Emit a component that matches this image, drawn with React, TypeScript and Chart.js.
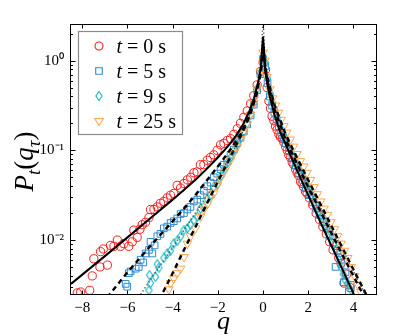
import React, { useEffect, useRef } from 'react';
import { Chart, registerables } from 'chart.js';

Chart.register(...registerables);

// ---- data (q, P) ----
const q0 = [-8.22,-8.07,-7.67,-7.56,-7.49,-7.22,-7.19,-7.07,-6.89,-6.75,-6.60,-6.45,-6.31,-6.16,-5.94,-5.79,-5.72,-5.57,-5.45,-5.35,-5.20,-5.05,-4.98,-4.83,-4.68,-4.54,-4.39,-4.24,-4.10,-3.95,-3.80,-3.65,-3.50,-3.35,-3.20,-3.06,-2.92,-2.77,-2.62,-2.47,-2.33,-2.18,-2.03,-1.88,-1.73,-1.58,-1.44,-1.29,-1.14,-1.00,-0.85,-0.70,-0.55,-0.41,-0.26,-0.11,0.00,0.11,0.18,0.26,0.33,0.40,0.48,0.55,0.62,0.70,0.77,0.85,0.92,1.00,1.07,1.14,1.22,1.29,1.36,1.44,1.51,1.58,1.66,1.73,1.80,1.88,1.95,2.05,2.20,2.35,2.50,2.65,2.80,2.95,3.10,3.25,3.35,3.45,3.58,3.70,3.85];
const p0 = [0.00257,0.00263,0.00275,0.00398,0.00617,0.00501,0.00741,0.00794,0.00525,0.00871,0.00851,0.0100,0.00851,0.00912,0.00851,0.00955,0.0129,0.0107,0.0132,0.0148,0.0158,0.0178,0.0219,0.0219,0.0234,0.0257,0.0269,0.0295,0.0316,0.0331,0.0407,0.0380,0.0427,0.0468,0.0501,0.0562,0.0575,0.0692,0.0692,0.0776,0.0832,0.0891,0.100,0.115,0.120,0.129,0.135,0.151,0.174,0.200,0.234,0.275,0.331,0.407,0.537,0.759,0.955,0.794,0.501,0.355,0.295,0.240,0.214,0.186,0.170,0.151,0.141,0.135,0.123,0.110,0.100,0.0891,0.0832,0.0741,0.0692,0.0617,0.0562,0.0525,0.0447,0.0427,0.0389,0.0347,0.0331,0.0295,0.0245,0.0200,0.0170,0.0141,0.0117,0.00955,0.00776,0.00871,0.00631,0.00550,0.00331,0.00417,0.00295];

const q5 = [-6.08,-6.01,-5.94,-5.86,-5.64,-5.50,-5.42,-5.30,-5.20,-5.05,-4.98,-4.90,-4.80,-4.68,-4.54,-4.39,-4.24,-4.09,-3.95,-3.80,-3.65,-3.50,-3.35,-3.21,-3.06,-2.91,-2.77,-2.62,-2.47,-2.32,-2.18,-2.03,-1.88,-1.73,-1.58,-1.44,-1.29,-1.14,-1.00,-0.85,-0.70,-0.55,-0.41,-0.26,-0.12,0.00,0.10,0.20,0.30,0.40,0.50,0.60,0.70,0.80,0.90,1.00,1.15,1.30,1.45,1.60,1.75,1.90,2.05,2.20,2.35,2.50,2.65,2.80,2.95,3.10,3.21,3.30,3.45,3.58,3.65,3.80,3.88];
const p5 = [0.00324,0.00302,0.00427,0.00447,0.00479,0.00501,0.00603,0.00562,0.00708,0.00776,0.00955,0.00708,0.00871,0.0110,0.0117,0.0135,0.0141,0.0155,0.0162,0.0174,0.0195,0.0200,0.0219,0.0234,0.0269,0.0282,0.0316,0.0355,0.0398,0.0437,0.0501,0.0550,0.0617,0.0692,0.0776,0.0891,0.102,0.120,0.138,0.162,0.195,0.245,0.324,0.468,0.708,1.047,0.871,0.562,0.398,0.316,0.263,0.219,0.186,0.158,0.138,0.120,0.100,0.0832,0.0676,0.0550,0.0468,0.0380,0.0316,0.0263,0.0224,0.0191,0.0158,0.0135,0.0112,0.00933,0.00501,0.00759,0.00603,0.00339,0.00437,0.00263,0.00316];

const q9 = [-5.05,-4.98,-5.02,-4.76,-4.68,-4.61,-4.39,-4.24,-4.10,-3.95,-3.80,-3.65,-3.50,-3.35,-3.21,-3.06,-2.91,-2.77,-2.62,-2.47,-2.32,-2.18,-2.03,-1.88,-1.73,-1.58,-1.44,-1.29,-1.14,-1.00,-0.85,-0.70,-0.55,-0.41,-0.26,-0.12,0.00,0.10,0.20,0.30,0.40,0.50,0.60,0.70,0.80,0.90,1.00,1.15,1.30,1.45,1.60,1.75,1.90,2.05,2.20,2.35,2.50,2.65,2.80,2.95,3.10,3.25,3.35,3.45,3.55,3.62,3.75,3.90];
const p9 = [0.00275,0.00331,0.00407,0.00389,0.00537,0.00490,0.00631,0.00708,0.00759,0.00912,0.00977,0.0110,0.0129,0.0135,0.0148,0.0166,0.0182,0.0224,0.0234,0.0288,0.0316,0.0389,0.0417,0.0513,0.0603,0.0724,0.0832,0.100,0.117,0.138,0.162,0.200,0.251,0.331,0.479,0.724,1.096,0.955,0.631,0.437,0.347,0.288,0.240,0.204,0.174,0.151,0.132,0.110,0.0891,0.0741,0.0617,0.0501,0.0427,0.0355,0.0295,0.0251,0.0209,0.0178,0.0148,0.0126,0.0105,0.00794,0.00603,0.00501,0.00417,0.00363,0.00331,0.00275];

const q25 = [-4.17,-4.09,-3.95,-3.80,-3.65,-3.50,-3.35,-3.21,-2.99,-2.77,-2.62,-2.47,-2.33,-2.18,-2.03,-1.88,-1.73,-1.58,-1.44,-1.29,-1.14,-1.00,-0.85,-0.70,-0.55,-0.41,-0.26,-0.12,0.00,0.08,0.18,0.30,0.42,0.55,0.68,0.80,0.92,1.05,1.20,1.35,1.50,1.65,1.80,1.95,2.10,2.25,2.40,2.55,2.70,2.85,3.00,3.15,3.30,3.45,3.60,3.75,3.90,4.05,4.20,4.33];
const p25 = [0.00282,0.00331,0.00372,0.00427,0.00479,0.00646,0.00912,0.0110,0.0135,0.0182,0.0219,0.0251,0.0295,0.0331,0.0407,0.0490,0.0575,0.0676,0.0776,0.0933,0.110,0.132,0.155,0.195,0.251,0.339,0.490,0.759,1.230,1.000,0.661,0.479,0.380,0.316,0.263,0.219,0.186,0.158,0.132,0.110,0.0912,0.0759,0.0661,0.0562,0.0468,0.0389,0.0324,0.0269,0.0224,0.0191,0.0158,0.0132,0.0110,0.00912,0.00759,0.00631,0.00501,0.00398,0.00316,0.00263];

// fitted curves
const fitQ0 = [-8.5,-7.0,-6.0,-5.0,-4.0,-3.0,-2.5,-2.0,-1.5,-1.2,-0.9,-0.6,-0.4,-0.2,-0.1,0,0.1,0.2,0.3,0.5,0.75,1.0,1.5,2.0,2.5,3.0,3.5,4.1];
const fitP0 = [0.00324,0.00661,0.0107,0.0174,0.0282,0.0468,0.0617,0.0832,0.115,0.145,0.191,0.275,0.380,0.603,0.832,1.862,0.759,0.525,0.398,0.251,0.162,0.117,0.0603,0.0316,0.0166,0.00891,0.00479,0.00224];
const fitQ5 = [-6.9,-6.0,-5.0,-4.0,-3.5,-3.0,-2.5,-2.0,-1.5,-1.0,-0.6,-0.3,-0.1,0,0.1,0.25,0.5,1.0,1.5,2.0,2.5,3.0,3.5,4.0,4.45];
const fitP5 = [0.00229,0.00437,0.00851,0.0162,0.0224,0.0316,0.0457,0.0661,0.0977,0.151,0.240,0.417,0.759,1.514,0.794,0.513,0.288,0.132,0.0708,0.0389,0.0219,0.0123,0.00692,0.00398,0.00240];
const fitQ9 = [-5.5,-5.0,-4.0,-3.5,-3.0,-2.5,-2.0,-1.5,-1.0,-0.6,-0.3,-0.1,0,0.1,0.25,0.5,1.0,1.5,2.0,2.5,3.0,3.5,4.0,4.55];
const fitP9 = [0.00229,0.00355,0.00832,0.0129,0.0200,0.0309,0.0490,0.0813,0.141,0.240,0.417,0.759,3.162,0.832,0.537,0.302,0.138,0.0759,0.0427,0.0240,0.0138,0.00794,0.00447,0.00240];
const fitQ25 = [-4.6,-4.0,-3.5,-3.0,-2.5,-2.0,-1.5,-1.0,-0.6,-0.3,-0.1,0,0.1,0.25,0.5,1.0,1.5,2.0,2.5,3.0,3.5,4.0,4.65];
const fitP25 = [0.00214,0.00427,0.00776,0.0138,0.0251,0.0447,0.0794,0.141,0.240,0.417,0.741,1.413,0.851,0.562,0.324,0.151,0.0832,0.0468,0.0263,0.0148,0.00832,0.00468,0.00224];

const legendTimes = ['0', '5', '9', '25'];
const xTickValues = [-8, -6, -4, -2, 0, 2, 4];
const xTickLabels = ['\u22128', '\u22126', '\u22124', '\u22122', '0', '2', '4'];
const yTickValues = [0.01, 0.1, 1];
const yTickLabels = ['10\u207B\u00B2', '10\u207B\u00B9', '10\u2070'];
const yMinorValues = [0.003,0.004,0.005,0.006,0.007,0.008,0.009,0.02,0.03,0.04,0.05,0.06,0.07,0.08,0.09,0.2,0.3,0.4,0.5,0.6,0.7,0.8,0.9,2];

const RED = '#ff1a1a';
const BLUE = '#2f8ad0';
const CYAN = '#18b6c0';
const ORANGE = '#ffa650';
const SERIF = '"Liberation Serif", "Times New Roman", serif';

const pts = (xs: number[], ys: number[]) => xs.map((x, i) => ({ x, y: ys[i] }));

function makeThinDiamond(color: string): HTMLCanvasElement {
  const c = document.createElement('canvas');
  c.width = 9; c.height = 11;
  const g = c.getContext('2d')!;
  g.strokeStyle = color; g.lineWidth = 1.1;
  g.beginPath();
  g.moveTo(4.5, 1); g.lineTo(7.6, 5.5); g.lineTo(4.5, 10); g.lineTo(1.4, 5.5); g.closePath();
  g.stroke();
  return c;
}

function drawMarker(ctx: CanvasRenderingContext2D, kind: number, x: number, y: number) {
  ctx.save();
  ctx.lineWidth = 1.1;
  ctx.beginPath();
  if (kind === 0) { ctx.strokeStyle = RED; ctx.arc(x, y, 4, 0, Math.PI * 2); }
  else if (kind === 1) { ctx.strokeStyle = BLUE; ctx.rect(x - 3.3, y - 3.3, 6.6, 6.6); }
  else if (kind === 2) { ctx.strokeStyle = CYAN; ctx.moveTo(x, y - 4.5); ctx.lineTo(x + 3.1, y); ctx.lineTo(x, y + 4.5); ctx.lineTo(x - 3.1, y); ctx.closePath(); }
  else { ctx.strokeStyle = ORANGE; ctx.moveTo(x - 4.3, y - 2.5); ctx.lineTo(x + 4.3, y - 2.5); ctx.lineTo(x, y + 4.5); ctx.closePath(); }
  ctx.stroke();
  ctx.restore();
}

const decorPlugin = {
  id: 'decor',
  afterDatasetsDraw(chart: any) {
    const { ctx, chartArea: a, scales } = chart;
    const xs = scales.x, ys = scales.y;
    ctx.save();
    ctx.strokeStyle = '#000';
    ctx.lineWidth = 1;
    const L = Math.round(a.left) - 0.5, R = Math.round(a.right) + 0.5;
    const T = Math.round(a.top) - 0.5, B = Math.round(a.bottom) + 0.5;
    ctx.strokeRect(L, T, R - L, B - T);
    ctx.beginPath();
    xTickValues.forEach((v) => {
      const px = Math.round(xs.getPixelForValue(v)) + 0.5;
      ctx.moveTo(px, B); ctx.lineTo(px, B - 4);
      ctx.moveTo(px, T); ctx.lineTo(px, T + 4);
    });
    yTickValues.forEach((v) => {
      const py = Math.round(ys.getPixelForValue(v)) + 0.5;
      ctx.moveTo(L, py); ctx.lineTo(L + 5, py);
      ctx.moveTo(R, py); ctx.lineTo(R - 5, py);
    });
    yMinorValues.forEach((v) => {
      const py = Math.round(ys.getPixelForValue(v)) + 0.5;
      ctx.moveTo(L, py); ctx.lineTo(L + 2.5, py);
      ctx.moveTo(R, py); ctx.lineTo(R - 2.5, py);
    });
    ctx.stroke();

    // legend
    const bx = 78.5, by = 31.5, bw = 104, bh = 103;
    ctx.fillStyle = '#fff';
    ctx.fillRect(bx, by, bw, bh);
    ctx.strokeStyle = '#8c8c8c';
    ctx.lineWidth = 1.2;
    ctx.strokeRect(bx, by, bw, bh);
    legendTimes.forEach((t, i) => {
      const ry = 46 + i * 25;
      drawMarker(ctx, i, 99, ry);
      ctx.fillStyle = '#000';
      ctx.textBaseline = 'alphabetic';
      ctx.textAlign = 'left';
      ctx.font = `italic 20px ${SERIF}`;
      ctx.fillText('t', 116.5, ry + 7);
      const w = ctx.measureText('t').width;
      ctx.font = `20px ${SERIF}`;
      ctx.fillText(` = ${t} s`, 116.5 + w, ry + 7);
    });

    // x axis title
    ctx.fillStyle = '#000';
    ctx.font = `italic 26px ${SERIF}`;
    ctx.textAlign = 'center';
    ctx.textBaseline = 'alphabetic';
    ctx.fillText('q', (a.left + a.right) / 2, 329);

    // y axis title: P_t(q_tau)
    const parts = [
      { s: 'P', f: `italic 27px ${SERIF}`, d: 0 },
      { s: 't', f: `italic 19px ${SERIF}`, d: 7 },
      { s: '(', f: `27px ${SERIF}`, d: 0 },
      { s: 'q', f: `italic 27px ${SERIF}`, d: 0 },
      { s: '\u03C4', f: `italic 19px ${SERIF}`, d: 7 },
      { s: ')', f: `27px ${SERIF}`, d: 0 },
    ];
    let total = 0;
    const widths = parts.map((p) => { ctx.font = p.f; const w = ctx.measureText(p.s).width; total += w; return w; });
    ctx.translate(33, (a.top + a.bottom) / 2 + 2);
    ctx.rotate(-Math.PI / 2);
    ctx.textAlign = 'left';
    let u = -total / 2;
    parts.forEach((p, i) => {
      ctx.font = p.f;
      ctx.fillText(p.s, u, p.d);
      u += widths[i];
    });
    ctx.restore();
  },
};

export default function App() {
  const ref = useRef<HTMLCanvasElement | null>(null);
  useEffect(() => {
    if (!ref.current) return;
    const diamond = makeThinDiamond(CYAN);
    const lineDs = (xs: number[], ys: number[], dash: number[], width: number, color: string) => ({
      data: pts(xs, ys),
      showLine: true,
      borderColor: color,
      borderWidth: width,
      borderDash: dash,
      pointRadius: 0,
      fill: false,
      tension: 0,
      order: 0,
    });
    const chart = new Chart(ref.current, {
      type: 'scatter',
      data: {
        datasets: [
          lineDs(fitQ0, fitP0, [], 2, '#000'),
          lineDs(fitQ5, fitP5, [5, 4], 2.4, '#000'),
          lineDs(fitQ9, fitP9, [1.2, 2.4], 1.4, '#444'),
          lineDs(fitQ25, fitP25, [5, 4], 2.4, '#000'),
          { label: 't = 25 s', data: pts(q25, p25), pointStyle: 'triangle', rotation: 180, pointRadius: 5, pointBorderWidth: 1, pointBorderColor: ORANGE, pointBackgroundColor: 'rgba(0,0,0,0)', borderColor: ORANGE, order: 1 } as any,
          { label: 't = 9 s', data: pts(q9, p9), pointStyle: diamond, pointRadius: 5, pointBorderColor: CYAN, borderColor: CYAN, order: 2 } as any,
          { label: 't = 5 s', data: pts(q5, p5), pointStyle: 'rect', pointRadius: 4.7, pointBorderWidth: 1, pointBorderColor: BLUE, pointBackgroundColor: 'rgba(0,0,0,0)', borderColor: BLUE, order: 3 } as any,
          { label: 't = 0 s', data: pts(q0, p0), pointStyle: 'circle', pointRadius: 4.1, pointBorderWidth: 1, pointBorderColor: RED, pointBackgroundColor: 'rgba(0,0,0,0)', borderColor: RED, order: 4 } as any,
        ],
      },
      options: {
        animation: false,
        responsive: false,
        devicePixelRatio: 1,
        events: [],
        layout: { padding: { left: 0, top: 25, right: 39, bottom: 0 } },
        plugins: { legend: { display: false }, tooltip: { enabled: false } },
        scales: {
          x: {
            type: 'linear',
            min: -8.5,
            max: 5,
            grid: { display: false, drawTicks: false },
            border: { display: false },
            afterFit: (s: any) => { s.height = 42; },
            afterBuildTicks: (s: any) => { s.ticks = xTickValues.map((v) => ({ value: v })); },
            ticks: {
              autoSkip: false,
              maxRotation: 0,
              padding: 5,
              color: '#000',
              font: { family: SERIF, size: 15 },
              callback: (_v: any, i: number) => xTickLabels[i],
            },
          },
          y: {
            type: 'logarithmic',
            min: 0.0025,
            max: 2.5,
            grid: { display: false, drawTicks: false },
            border: { display: false },
            afterFit: (s: any) => { s.width = 71; },
            afterBuildTicks: (s: any) => { s.ticks = yTickValues.map((v) => ({ value: v })); },
            ticks: {
              autoSkip: false,
              padding: 7,
              color: '#000',
              font: { family: SERIF, size: 15 },
              callback: (_v: any, i: number) => yTickLabels[i],
            },
          },
        },
      },
      plugins: [decorPlugin],
    } as any);
    return () => chart.destroy();
  }, []);
  return (
    <div style={{ position: 'fixed', left: 0, top: 0, width: 415, height: 336, background: '#fff' }}>
      <canvas ref={ref} width={415} height={336} style={{ display: 'block' }} />
    </div>
  );
}
